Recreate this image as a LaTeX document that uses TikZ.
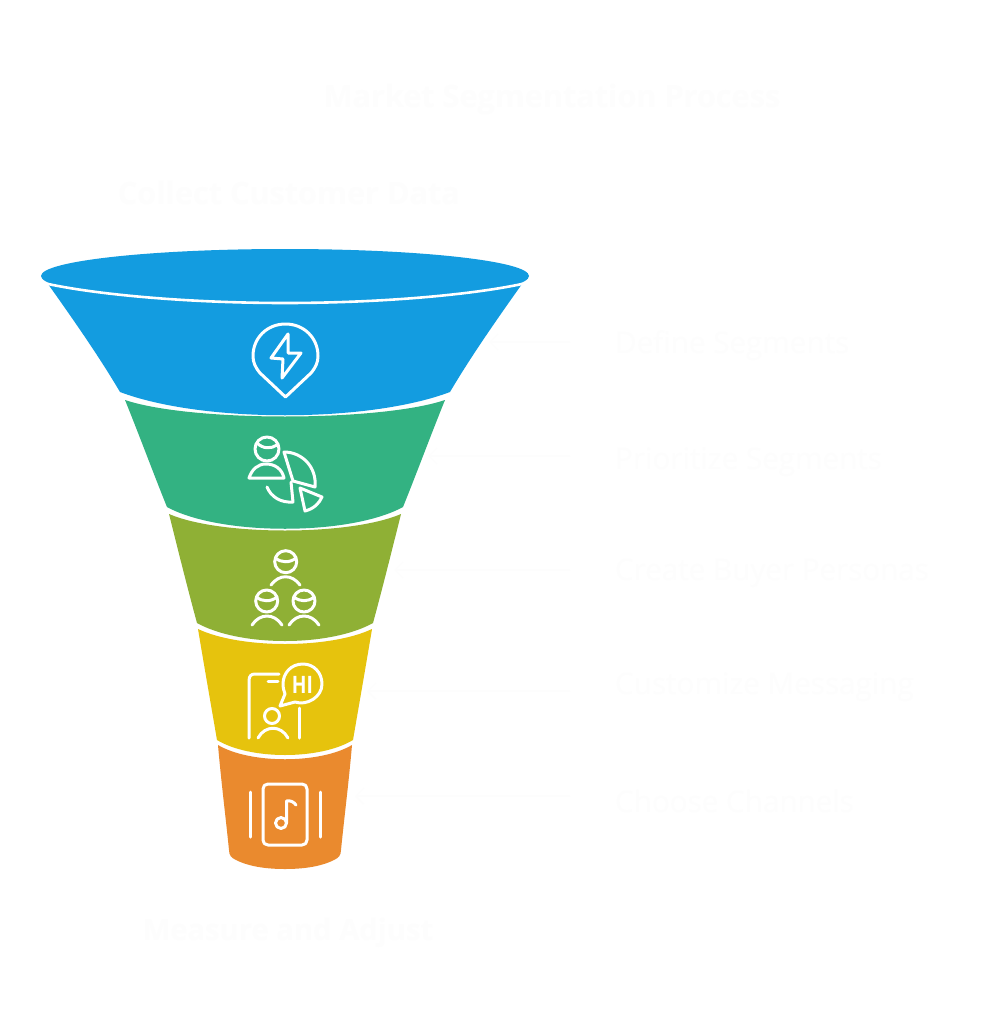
\documentclass[tikz,border=0pt]{standalone}
\usepackage{fontspec}
\setmainfont{Open Sans}
\usetikzlibrary{arrows.meta}
\definecolor{ghost}{HTML}{FDFDFD}
\definecolor{fblue}{HTML}{139CE0}
\definecolor{fgreen}{HTML}{33B282}
\definecolor{folive}{HTML}{8FB035}
\definecolor{fyellow}{HTML}{E6C30D}
\definecolor{forange}{HTML}{EA8A2E}
\tikzset{
  heading/.style={text=ghost,inner sep=0pt,font=\fontsize{30.6}{36}\selectfont\bfseries},
  sidelabel/.style={text=ghost,inner sep=0pt,anchor=west,font=\fontsize{29.6}{36}\selectfont},
  link/.style={draw=ghost,line width=1.3pt,-{Straight Barb[length=8pt,width=16pt]}},
  icon/.style={draw=white,line width=3pt,line cap=round,line join=round},
  seam/.style={draw=white,line width=2.6pt,line cap=round},
}
\begin{document}
\begin{tikzpicture}[x=1pt,y=-1pt]
\useasboundingbox (0,0) rectangle (986,1024);
\fill[white] (0,0) rectangle (986,1024);
% funnel
\fill[forange] (218,745) .. controls (221,780) and (226,820) .. (229,850)
  .. controls (229,856) and (232,858) .. (236,860) .. controls (250,867) and (268,869) .. (285,869)
  .. controls (302,869) and (320,867) .. (334,860) .. controls (338,858) and (341,856) .. (341,850)
  .. controls (344,820) and (349,780) .. (352,745)
  .. controls (320,764) and (250,764) .. (218,745) -- cycle;
\fill[fyellow] (198,629) .. controls (204,665) and (211,705) .. (217,740)
  .. controls (250,760) and (320,760) .. (353,740)
  .. controls (359,705) and (366,665) .. (372,629)
  .. controls (330,649) and (240,649) .. (198,629) -- cycle;
\fill[folive] (169,514) .. controls (178,550) and (188,590) .. (197,623)
  .. controls (240,647) and (330,647) .. (373,623)
  .. controls (382,590) and (392,550) .. (401,514)
  .. controls (350,536) and (220,536) .. (169,514) -- cycle;
\fill[fgreen] (125,400) .. controls (140,437) and (154,475) .. (167,507)
  .. controls (220,536) and (350,536) .. (403,507)
  .. controls (416,475) and (430,437) .. (445,400)
  .. controls (380,422) and (190,422) .. (125,400) -- cycle;
\fill[fblue] (48,284) .. controls (75,322) and (100,358) .. (120,392)
  .. controls (202,423) and (368,423) .. (450,392)
  .. controls (470,358) and (495,322) .. (522,284) -- cycle;
\fill[fblue] (285,276) ellipse[x radius=244,y radius=27];
\draw[seam] (48,284) .. controls (100,295) and (190,303) .. (285,303)
  .. controls (380,303) and (470,295) .. (522,284);
% pin icon
\draw[icon] (285.5,397) -- (260,373) .. controls (255,367) and (253,362) .. (253,356)
  .. controls (253,338) and (267,324) .. (285.5,324)
  .. controls (304,324) and (318,338) .. (318,356)
  .. controls (318,362) and (316,367) .. (311,373) -- cycle;
\draw[icon] (288,334) -- (271,358) -- (283,359) -- (282,378) -- (301,353) -- (288,353) -- cycle;
% person and pie icon
\draw[icon] (267,449) circle[radius=12];
\draw[icon] (257,443) .. controls (263,449) and (271,449) .. (277,445);
\draw[icon] (249,478) .. controls (252,469) and (258,464) .. (266,464)
  .. controls (275,464) and (282,469) .. (284,478) -- cycle;
\draw[icon] (284,452) .. controls (302,452) and (317,467) .. (315,487) -- (293,481) -- cycle;
\draw[icon] (267,487) .. controls (271,497) and (281,503) .. (293,502) -- (291,482);
\draw[icon] (300,488) -- (322,497) .. controls (319,504) and (313,509) .. (305,511) -- cycle;
% three people icon
\draw[icon] (285.7,561.7) circle[radius=11];
\draw[icon] (275.5,558) .. controls (281,563) and (290,563) .. (296,558);
\draw[icon] (271,585) .. controls (279,574) and (292,574) .. (300,585);
\draw[icon] (266.7,601) circle[radius=11];
\draw[icon] (256.5,597) .. controls (262,602) and (271,602) .. (277,597);
\draw[icon] (252,625) .. controls (260,613) and (274,613) .. (282,625);
\draw[icon] (304,601) circle[radius=11];
\draw[icon] (294,597) .. controls (300,602) and (308,602) .. (314,597);
\draw[icon] (289,625) .. controls (297,613) and (311,613) .. (319,625);
% phone icon
\draw[icon] (249,738) -- (249,681) .. controls (249,676) and (251,674) .. (255,674) -- (279,674);
\draw[icon] (268,681) -- (278,681);
\draw[icon] (299,708) -- (299,738);
\draw[icon] (272,716) circle[radius=7.5];
\draw[icon] (258,738) .. controls (265,725) and (281,725) .. (288,738);
\draw[icon] (295,702) .. controls (307,706) and (322,697) .. (322,684)
  .. controls (322,673) and (314,664) .. (303,664)
  .. controls (291,664) and (283,673) .. (283,684)
  .. controls (283,688) and (284,691) .. (285,694) -- (280,706) -- cycle;
\node[text=white,inner sep=0pt,font=\fontsize{24}{24}\selectfont\bfseries] (hi) at (302.5,684.5) {\scalebox{0.8}[1]{HI}};
% music icon
\draw[icon] (268,784) -- (302,784) .. controls (305,784) and (307,786) .. (307,789) -- (307,840)
  .. controls (307,843) and (305,845) .. (302,845) -- (268,845)
  .. controls (265,845) and (263,843) .. (263,840) -- (263,789)
  .. controls (263,786) and (265,784) .. (268,784) -- cycle;
\draw[icon] (250,792) -- (250,837);
\draw[icon] (320,792) -- (320,837);
\draw[icon] (281,823) circle[radius=5.5];
\draw[icon] (286.5,823) -- (286.5,801) .. controls (290,800) and (294,802) .. (296,805);
% texts
\node[heading] (title) at (552,100) {Market Segmentation Process};
\node[heading] (top) at (289,193) {Collect Customer Data};
\node[heading,font=\fontsize{29.2}{36}\selectfont\bfseries] (bottom) at (288,933) {Measure and Adjust};
\node[sidelabel] (s1) at (615,346) {Define Segments};
\node[sidelabel] (s2) at (615,462) {Prioritize Segments};
\node[sidelabel] (s3) at (615,573) {Create Buyer Personas};
\node[sidelabel] (s4) at (615,687) {Customize Messaging};
\node[sidelabel] (s5) at (615,801) {Choose Channels};
% connectors
\coordinate (e1) at (570,342); \coordinate (t1) at (489,342);
\coordinate (e2) at (570,456); \coordinate (t2) at (428,456);
\coordinate (e3) at (570,570); \coordinate (t3) at (394,570);
\coordinate (e4) at (570,691); \coordinate (t4) at (367,691);
\coordinate (e5) at (570,796); \coordinate (t5) at (355,796);
\draw[link] (e1) -- (t1);
\draw[link] (e2) -- (t2);
\draw[link] (e3) -- (t3);
\draw[link] (e4) -- (t4);
\draw[link] (e5) -- (t5);
\end{tikzpicture}
\end{document}
